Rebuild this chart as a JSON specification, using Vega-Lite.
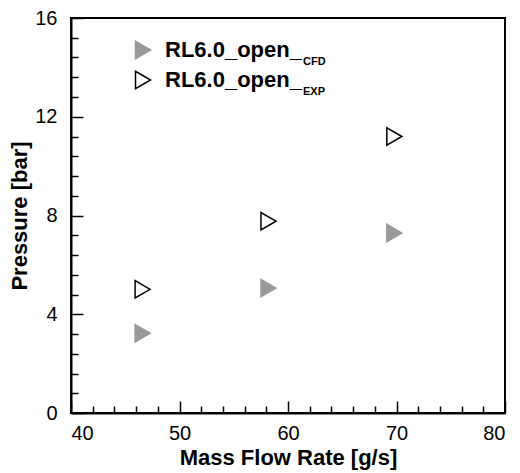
{
  "$schema": "https://vega.github.io/schema/vega-lite/v6.json",
  "autosize": "none",
  "width": 434,
  "height": 395,
  "padding": {"left": 71, "top": 18, "right": 15, "bottom": 60},
  "background": "white",
  "config": {
    "font": "Liberation Sans",
    "view": {"stroke": "black", "strokeWidth": 2},
    "axis": {"grid": false, "domainColor": "black", "domainWidth": 2, "tickColor": "black", "tickWidth": 1.5, "labelColor": "black", "titleColor": "black", "labelFont": "Liberation Sans", "titleFont": "Liberation Sans"}
  },
  "data": {"values": [
    {"flow": 46.6, "pressure": 3.23, "series": "RL6.0_open_CFD", "sub": "CFD"},
    {"flow": 58.2, "pressure": 5.06, "series": "RL6.0_open_CFD", "sub": "CFD"},
    {"flow": 69.8, "pressure": 7.29, "series": "RL6.0_open_CFD", "sub": "CFD"},
    {"flow": 46.6, "pressure": 5.01, "series": "RL6.0_open_EXP", "sub": "EXP"},
    {"flow": 58.2, "pressure": 7.77, "series": "RL6.0_open_EXP", "sub": "EXP"},
    {"flow": 69.8, "pressure": 11.2, "series": "RL6.0_open_EXP", "sub": "EXP"}
  ]},
  "layer": [
    {
      "mark": {"type": "point", "opacity": 0},
      "encoding": {
        "x": {"field": "flow", "type": "quantitative", "scale": {"domain": [40, 80], "nice": false, "zero": false},
          "axis": {"orient": "bottom", "values": [42,44,46,48,52,54,56,58,62,64,66,68,72,74,76,78], "labels": false, "domain": false, "tickSize": -7, "title": null}},
        "y": {"field": "pressure", "type": "quantitative", "scale": {"domain": [0, 16], "nice": false},
          "axis": {"orient": "left", "values": [0.8,1.6,2.4,3.2,4.8,5.6,6.4,7.2,8.8,9.6,10.4,11.2,12.8,13.6,14.4,15.2], "labels": false, "domain": false, "tickSize": -7, "title": null}}
      }
    },
    {
      "mark": {"type": "point", "size": 300, "strokeWidth": 1.5, "opacity": 1},
      "encoding": {
        "x": {"field": "flow", "type": "quantitative",
          "axis": {"orient": "bottom", "values": [40,50,60,70,80], "tickSize": -12, "labelPadding": 22, "labelFontSize": 20, "title": "Mass Flow Rate [g/s]", "titleFontSize": 22, "titleFontWeight": "bold", "titlePadding": 4}},
        "y": {"field": "pressure", "type": "quantitative",
          "axis": {"orient": "left", "values": [0,4,8,12,16], "tickSize": -12, "labelPadding": 26, "labelFontSize": 20, "title": "Pressure [bar]", "titleFontSize": 22, "titleFontWeight": "bold", "titlePadding": 3}},
        "fill": {"field": "series", "type": "nominal", "scale": {"range": ["#999999", "transparent"]},
          "legend": {"orient": "none", "legendX": 61, "legendY": 21, "title": null, "padding": 0, "symbolType": "triangle-right", "symbolSize": 300, "symbolStrokeWidth": 1.5, "labelFontSize": 22, "labelFontWeight": "bold", "labelFont": "Liberation Sans", "labelColor": "black", "labelOffset": 11, "rowPadding": 6, "labelExpr": "substring(datum.label, 0, 11)"}},
        "stroke": {"field": "series", "type": "nominal", "scale": {"range": ["#999999", "black"]}},
        "shape": {"field": "sub", "type": "nominal", "scale": {"range": ["triangle-right", "triangle-right"]},
          "legend": {"orient": "none", "legendX": 221, "legendY": 38, "title": null, "padding": 0, "symbolOpacity": 0, "symbolSize": 0, "labelFontSize": 11, "labelFontWeight": "bold", "labelFont": "Liberation Sans", "labelColor": "black", "labelOffset": 0, "rowPadding": 18}}
      }
    }
  ],
  "resolve": {"axis": {"x": "independent", "y": "independent"}}
}
